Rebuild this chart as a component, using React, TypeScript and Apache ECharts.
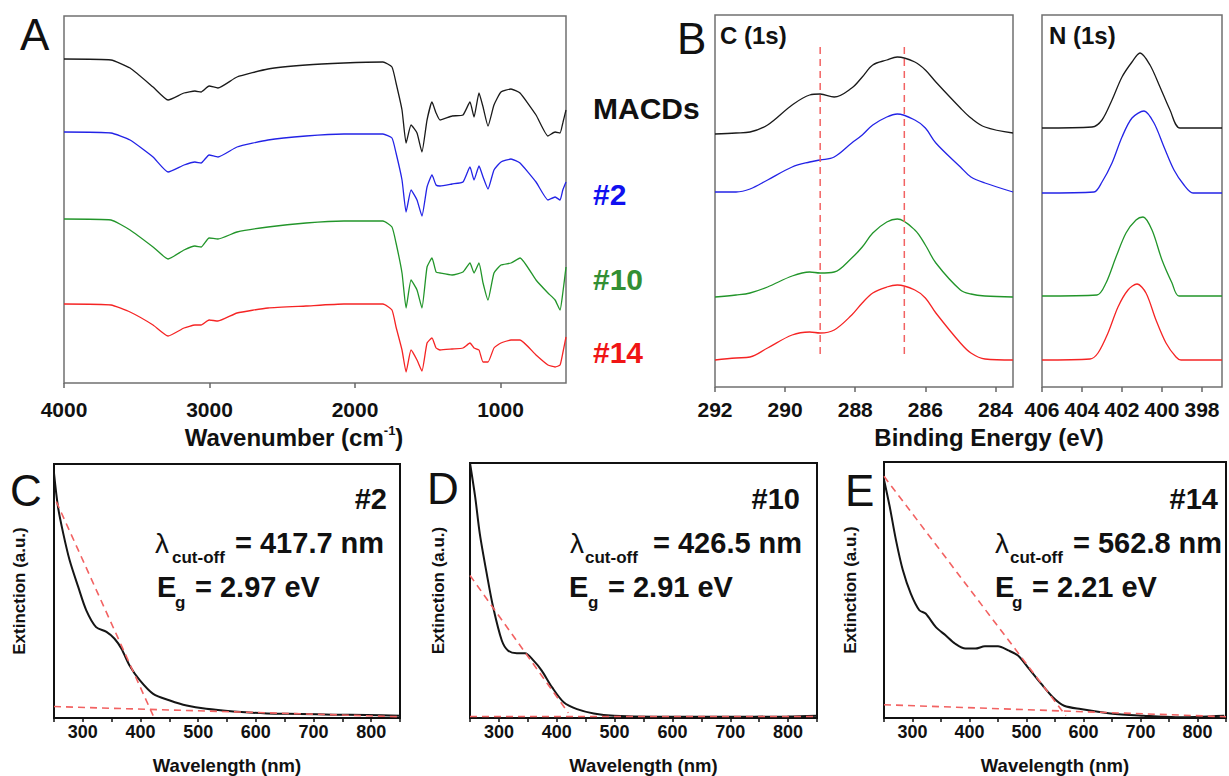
import React, { useEffect, useRef } from "react";
import * as echarts from "echarts";

// ---------- Panel A: FTIR (wavenumber, offset transmittance a.u., downward axis) ----------
const wnA = [4000, 3677, 3546, 3388, 3285, 3175, 3100, 3058, 3003, 2942, 2811, 2598, 2337, 2076, 1808, 1746, 1718, 1677, 1649, 1615, 1574, 1540, 1505, 1471, 1443, 1416, 1333, 1258, 1210, 1182, 1148, 1120, 1086, 1045, 997, 928, 866, 756, 674, 625, 591, 572, 550];
const ftirMACDs = [59, 60, 68, 87, 100, 93, 91, 92, 86, 88, 77, 69, 65, 63, 62, 67, 83, 110, 143, 125, 133, 152, 120, 102, 113, 120, 116, 115, 102, 117, 93, 107, 126, 105, 92, 89, 93, 115, 136, 132, 133, 123, 110];
const ftir2 = [132, 133, 140, 157, 172, 165, 162, 163, 155, 157, 147, 140, 136, 134, 134, 138, 153, 180, 212, 190, 200, 216, 187, 175, 185, 186, 184, 182, 167, 180, 166, 177, 189, 170, 162, 159, 163, 182, 200, 197, 200, 190, 182];
const ftir10 = [219, 220, 230, 247, 259, 250, 246, 247, 238, 239, 232, 227, 223, 221, 221, 227, 243, 273, 308, 280, 290, 308, 267, 258, 272, 273, 275, 272, 263, 273, 263, 283, 300, 273, 265, 263, 258, 280, 293, 300, 310, 293, 267];
const ftir14 = [304, 305, 312, 325, 336, 328, 325, 325, 320, 321, 313, 308, 306, 304, 304, 310, 327, 350, 372, 350, 360, 371, 343, 338, 348, 350, 349, 348, 343, 348, 350, 362, 362, 348, 343, 340, 340, 355, 365, 367, 365, 353, 337];
const ftirTicks = [1000, 2000, 3000, 4000];

// ---------- Panel B: XPS C(1s) ----------
const evC = [292, 291.4, 291.0, 290.5, 289.8, 289.3, 289.0, 288.6, 288.1, 287.8, 287.5, 287.1, 286.8, 286.3, 286.0, 285.7, 285.0, 284.7, 284.3, 283.5];
const c1sMACDs = [134, 133, 132, 125, 105, 95, 94, 97, 88, 77, 65, 60, 57, 62, 70, 82, 108, 118, 127, 133];
const c1s2 = [192, 192, 189, 180, 167, 162, 160, 157, 143, 135, 125, 117, 114, 120, 128, 143, 167, 177, 183, 192];
const c1s10 = [297, 295, 293, 287, 276, 272, 273, 272, 258, 247, 233, 222, 219, 230, 245, 263, 290, 294, 296, 297];
const c1s14 = [360, 358, 357, 348, 335, 332, 333, 330, 315, 303, 293, 287, 285, 290, 298, 313, 343, 353, 359, 360];
const c1sRefLines = [289.0, 286.6];
const c1sRefSpan = [47, 357];
const c1sTicks = [284, 286, 288, 290, 292];

// ---------- Panel B: XPS N(1s) ----------
const nMACDsE = [406, 403.5, 403.0, 402.5, 402.0, 401.5, 401.1, 400.6, 400.1, 399.6, 399.1, 397];
const nMACDsI = [128, 127, 120, 100, 77, 62, 53, 65, 87, 110, 128, 128];
const n2E = [406, 403.4, 403.0, 402.5, 402.0, 401.5, 400.9, 400.4, 399.9, 399.4, 398.9, 398.45, 397];
const n2I = [193, 192, 182, 163, 137, 118, 111, 123, 147, 170, 185, 193, 193];
const n10E = [406, 403.25, 402.8, 402.3, 401.8, 401.3, 400.95, 400.5, 400.0, 399.5, 399.15, 397];
const n10I = [296, 295, 283, 257, 233, 220, 217, 230, 260, 283, 296, 296];
const n14E = [406, 403.6, 403.2, 402.7, 402.2, 401.7, 401.25, 400.8, 400.3, 399.8, 399.3, 399.05, 397];
const n14I = [360, 359, 353, 333, 307, 290, 284, 293, 320, 343, 357, 360, 360];
const n1sTicks = [398, 400, 402, 404, 406];

// ---------- Panels C, D, E: extinction spectra ----------
const cNm = [250, 257, 266, 277, 292, 306, 323, 341, 355, 367, 381, 399, 422, 451, 480, 514, 561, 619, 676, 734, 792, 850];
const cExt = [0.964, 0.83, 0.727, 0.622, 0.516, 0.424, 0.358, 0.339, 0.312, 0.273, 0.207, 0.148, 0.095, 0.069, 0.049, 0.036, 0.026, 0.018, 0.016, 0.013, 0.012, 0.009];
const cTangent = [[254, 0.852], [422, 0.009]];
const cBase = [[250, 0.045], [850, 0.005]];

const dNm = [250, 259, 267, 279, 290, 305, 316, 331, 345, 360, 374, 392, 412, 435, 464, 499, 568, 684, 799, 850];
const dExt = [1.0, 0.866, 0.722, 0.565, 0.435, 0.304, 0.264, 0.254, 0.254, 0.225, 0.186, 0.12, 0.062, 0.035, 0.018, 0.009, 0.005, 0.005, 0.006, 0.009];
const dTangent = [[250, 0.559], [420, 0.02]];
const dBase = [[250, 0.006], [850, 0.006]];

const eNm = [250, 260, 271, 283, 297, 312, 323, 341, 358, 375, 393, 410, 427, 450, 468, 485, 502, 526, 549, 566, 595, 647, 705, 762, 847];
const eExt = [0.931, 0.826, 0.695, 0.578, 0.486, 0.421, 0.408, 0.355, 0.323, 0.29, 0.271, 0.271, 0.28, 0.28, 0.264, 0.244, 0.199, 0.133, 0.075, 0.048, 0.035, 0.018, 0.009, 0.003, 0.009];
const eTangent = [[250, 0.944], [569, 0.009]];
const eBase = [[250, 0.052], [850, 0.005]];

const sampleNames = ["MACDs", "#2", "#10", "#14"];
const uvSamples = ["#2", "#10", "#14"];
const cutoffs = ["417.7", "426.5", "562.8"];
const gaps = ["2.97", "2.91", "2.21"];

// ---------- styles / layout ----------
const FONT = '"Liberation Sans", Arial, Helvetica, sans-serif';
const COLORS = ["#1a1a1a", "#2323e6", "#22952a", "#f52424"];
const LABEL_COLORS = ["#111111", "#1010f0", "#338f33", "#f01515"];
const DASH = "#f26262";

const zip = (xs: number[], ys: number[]) => xs.map((x, i) => [x, ys[i]]);

function line(idx: number, data: number[][], color: string, width: number, smooth = 0, dashed = false) {
  return {
    type: "line",
    xAxisIndex: idx,
    yAxisIndex: idx,
    data,
    symbol: "none",
    showSymbol: false,
    smooth,
    silent: true,
    lineStyle: { color, width, type: dashed ? [7, 5] : "solid" },
    z: dashed ? 3 : 2,
  };
}

function txt(x: number, y: number, text: string, size: number, opts: any = {}) {
  const align = opts.align || "left";
  return {
    type: "text",
    x,
    y,
    z: 100,
    silent: true,
    style: {
      text,
      fontSize: size,
      fontFamily: FONT,
      fontWeight: opts.weight || "bold",
      fill: opts.color || "#111",
      align,
      verticalAlign: "middle",
      textAlign: align,
      textVerticalAlign: "middle",
      rich: opts.rich,
    },
  };
}

export default function App() {
  const ref = useRef<HTMLDivElement>(null);
  useEffect(() => {
    if (!ref.current) return;
    const chart = echarts.init(ref.current, undefined, { renderer: "svg" });

    const grids = [
      { left: 64, top: 16, width: 502, height: 367, border: "#707070", bw: 1.5 },
      { left: 715, top: 15, width: 298, height: 372, border: "#707070", bw: 1.5 },
      { left: 1042, top: 15, width: 180, height: 372, border: "#707070", bw: 1.5 },
      { left: 54, top: 464, width: 346, height: 254, border: "#111", bw: 2 },
      { left: 470, top: 463, width: 347, height: 255, border: "#111", bw: 2 },
      { left: 884, top: 462, width: 347, height: 256, border: "#111", bw: 2 },
    ];

    const tickLabel = (size: number, margin: number) => ({
      fontSize: size,
      fontWeight: "bold",
      fontFamily: FONT,
      color: "#111",
      margin,
    });

    const topX = (idx: number, min: number, max: number, ticks: number[], margin: number) => ({
      type: "value",
      gridIndex: idx,
      min,
      max,
      inverse: true,
      axisLine: { show: false },
      axisTick: { show: true, inside: false, length: 5, lineStyle: { color: "#666", width: 1.5 }, customValues: ticks },
      axisLabel: { ...tickLabel(21, margin), customValues: ticks, formatter: (v: number) => String(v) },
      splitLine: { show: false },
    });

    const uvX = (idx: number) => ({
      type: "value",
      gridIndex: idx,
      min: 250,
      max: 850,
      interval: 50,
      axisLine: { show: false },
      axisTick: { show: true, inside: false, length: 4, lineStyle: { color: "#111", width: 1.5 } },
      axisLabel: {
        ...tickLabel(18, 5),
        formatter: (v: number) => (v % 100 === 0 && v >= 300 && v <= 800 ? String(v) : ""),
      },
      splitLine: { show: false },
      name: "Wavelength (nm)",
      nameLocation: "middle",
      nameGap: 38,
      nameTextStyle: { fontSize: 18.5, fontWeight: "bold", fontFamily: FONT, color: "#111" },
    });

    const hiddenY = (idx: number, min: number, max: number, inverse: boolean, name?: string, gap = 24) => ({
      type: "value",
      gridIndex: idx,
      min,
      max,
      inverse,
      axisLine: { show: false },
      axisTick: { show: false },
      axisLabel: { show: false },
      splitLine: { show: false },
      ...(name
        ? {
            name,
            nameLocation: "middle",
            nameGap: gap,
            nameTextStyle: { fontSize: 17, fontWeight: "bold", fontFamily: FONT, color: "#111" },
          }
        : {}),
    });

    const ftirSets = [ftirMACDs, ftir2, ftir10, ftir14];
    const c1sSets = [c1sMACDs, c1s2, c1s10, c1s14];
    const n1sSets = [
      [nMACDsE, nMACDsI],
      [n2E, n2I],
      [n10E, n10I],
      [n14E, n14I],
    ];

    const series: any[] = [];
    ftirSets.forEach((ys, i) => series.push(line(0, zip(wnA, ys), COLORS[i], 1.3, 0.15)));
    c1sSets.forEach((ys, i) => series.push(line(1, zip(evC, ys), COLORS[i], 1.3, 0.35)));
    c1sRefLines.forEach((ev) =>
      series.push(line(1, [[ev, c1sRefSpan[0]], [ev, c1sRefSpan[1]]], DASH, 1.5, 0, true))
    );
    n1sSets.forEach(([xs, ys], i) => series.push(line(2, zip(xs, ys), COLORS[i], 1.3, 0.3)));

    const uv = [
      [cNm, cExt, cTangent, cBase],
      [dNm, dExt, dTangent, dBase],
      [eNm, eExt, eTangent, eBase],
    ] as any[];
    uv.forEach(([xs, ys, tan, base], k) => {
      const idx = 3 + k;
      series.push(line(idx, zip(xs, ys), "#151515", 2, 0.3));
      series.push(line(idx, tan, DASH, 1.6, 0, true));
      series.push(line(idx, base, DASH, 1.6, 0, true));
    });

    // annotation layout per UV panel
    const ann = [
      { hashR: 387, lx: 155, sx: 172, eqx: 235, ex: 157, gx: 175, eq2x: 195 },
      { hashR: 800, lx: 570, sx: 585, eqx: 653, ex: 569, gx: 588, eq2x: 608 },
      { hashR: 1218, lx: 995, sx: 1010, eqx: 1073, ex: 995, gx: 1012, eq2x: 1032 },
    ];

    const graphics: any[] = [
      txt(20, 34, "A", 44, { weight: "normal" }),
      txt(677, 38, "B", 44, { weight: "normal" }),
      txt(10, 490, "C", 44, { weight: "normal" }),
      txt(427, 488, "D", 44, { weight: "normal" }),
      txt(845, 490, "E", 44, { weight: "normal" }),
      txt(720, 35, "C (1s)", 24),
      txt(1049, 35, "N (1s)", 24),
      txt(294, 437, "{a|Wavenumber (cm}{s|-1}{a|)}", 24, {
        align: "center",
        rich: {
          a: { fontSize: 24, fontWeight: "bold", fontFamily: FONT, fill: "#111", lineHeight: 26 },
          s: { fontSize: 13, fontWeight: "bold", fontFamily: FONT, fill: "#111", lineHeight: 13, verticalAlign: "top" },
        },
      }),
      txt(989, 437, "Binding Energy (eV)", 24, { align: "center" }),
    ];
    const labelY = [108, 194, 279, 352];
    sampleNames.forEach((s, i) => graphics.push(txt(593, labelY[i], s, 30, { color: LABEL_COLORS[i] })));

    uvSamples.forEach((s, k) => {
      const a = ann[k];
      graphics.push(txt(a.hashR, 499, s, 29, { align: "right" }));
      graphics.push(txt(a.lx, 543, "λ", 28, { weight: "normal" }));
      graphics.push(txt(a.sx, 557, "cut-off", 17));
      graphics.push(txt(a.eqx, 543, "= " + cutoffs[k] + " nm", 29));
      graphics.push(txt(a.ex, 587, "E", 29));
      graphics.push(txt(a.gx, 602, "g", 17));
      graphics.push(txt(a.eq2x, 587, "= " + gaps[k] + " eV", 29));
    });

    chart.setOption({
      animation: false,
      backgroundColor: "#ffffff",
      grid: grids.map((g) => ({
        left: g.left,
        top: g.top,
        width: g.width,
        height: g.height,
        show: true,
        borderColor: g.border,
        borderWidth: g.bw,
        backgroundColor: "transparent",
        containLabel: false,
      })),
      xAxis: [
        topX(0, 550, 4000, ftirTicks, 16),
        topX(1, 283.5, 292, c1sTicks, 12),
        topX(2, 397, 406, n1sTicks, 12),
        uvX(3),
        uvX(4),
        uvX(5),
      ],
      yAxis: [
        hiddenY(0, 16, 383, true),
        hiddenY(1, 15, 387, true),
        hiddenY(2, 15, 387, true),
        hiddenY(3, 0, 1, false, "Extinction (a.u.)", 26),
        hiddenY(4, 0, 1, false, "Extinction (a.u.)", 23),
        hiddenY(5, 0, 1, false, "Extinction (a.u.)", 25),
      ],
      series,
      graphic: graphics,
    });

    return () => chart.dispose();
  }, []);

  return (
    <div
      ref={ref}
      style={{ position: "fixed", left: 0, top: 0, width: 1229, height: 776, background: "#fff" }}
    />
  );
}
